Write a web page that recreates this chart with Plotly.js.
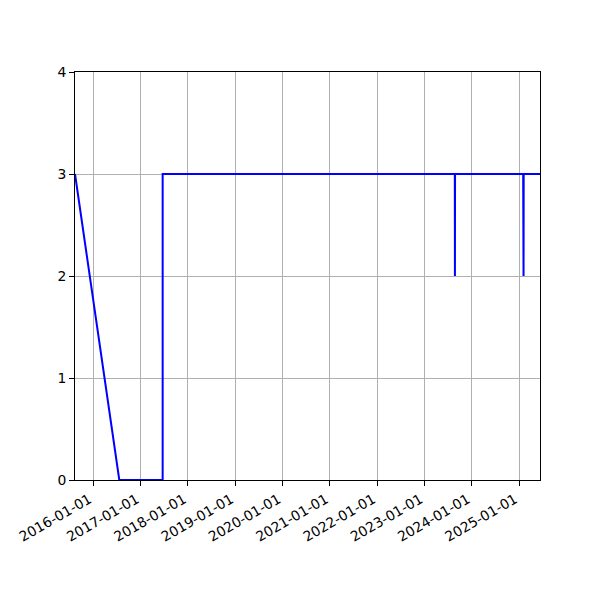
<!DOCTYPE html>
<html>
<head>
<meta charset="utf-8">
<script src="https://cdn.plot.ly/plotly-3.0.1.min.js"></script>
<style>
  html, body { margin: 0; padding: 0; background: #fff; }
  #chart { width: 600px; height: 600px; }
</style>
</head>
<body>
<div id="chart"></div>
<script>
// dates and levels
const dates = [
  "2015-08-13", "2016-07-20", "2017-06-20", "2017-06-20",
  "2023-08-24", "2023-08-25", "2023-08-26",
  "2025-02-02", "2025-02-03", "2025-02-05", "2025-02-06",
  "2025-06-12"
];
const levels = [3, 0, 0, 3, 3, 2, 3, 3, 2, 2, 3, 3];

const tickVals = [
  "2016-01-01", "2017-01-01", "2018-01-01", "2019-01-01", "2020-01-01",
  "2021-01-01", "2022-01-01", "2023-01-01", "2024-01-01", "2025-01-01"
];
const yTicks = [0, 1, 2, 3, 4];

window.addEventListener("DOMContentLoaded", () => {

  const font = { family: "DejaVu Sans", size: 13.9, color: "#000" };

  Plotly.newPlot("chart", [{
    x: dates,
    y: levels,
    type: "scatter",
    mode: "lines",
    line: { color: "#0000ff", width: 2 },
    cliponaxis: false,
    hoverinfo: "skip"
  }], {
    width: 600,
    height: 600,
    margin: { l: 75, r: 60, t: 72, b: 120 },
    paper_bgcolor: "#fff",
    plot_bgcolor: "#fff",
    showlegend: false,
    font: font,
    xaxis: {
      type: "date",
      range: [dates[0], dates[dates.length - 1]],
      tickvals: tickVals,
      ticktext: tickVals,
      tickangle: -30,
      ticklabelshift: -4,
      ticks: "outside",
      ticklen: 5,
      tickwidth: 1,
      tickcolor: "#000",
      showline: true,
      linecolor: "#000",
      linewidth: 1,
      mirror: true,
      showgrid: true,
      gridcolor: "#b0b0b0",
      gridwidth: 1,
      zeroline: false,
      layer: "below traces",
      tickfont: font
    },
    yaxis: {
      range: [0, 4],
      tickvals: yTicks,
      ticks: "outside",
      ticklen: 5,
      tickwidth: 1,
      tickcolor: "#000",
      showline: true,
      linecolor: "#000",
      linewidth: 1,
      mirror: true,
      showgrid: true,
      gridcolor: "#b0b0b0",
      gridwidth: 1,
      zeroline: false,
      layer: "below traces",
      tickfont: font
    }
  }, { staticPlot: true });

});
</script>
</body>
</html>
